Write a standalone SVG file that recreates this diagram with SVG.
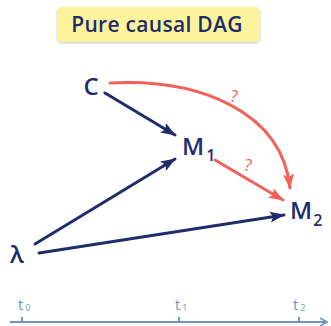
<svg xmlns="http://www.w3.org/2000/svg" width="331" height="326" viewBox="0 0 331 326">
  <style>
    .node { font-family: "Open Sans", "DejaVu Sans", sans-serif; fill: #1f2d6b; font-size: 24px; font-weight: 600; }
    .sub { font-size: 16px; }
    .edge { fill: none; stroke-width: 3; stroke-linecap: round; }
    .navy { stroke: #1f2d6b; }
    .red { stroke: #f0625a; }
    .q { font-family: "Open Sans", "DejaVu Sans", sans-serif; fill: #f0625a; font-size: 17px; font-style: italic; }
    .axis { stroke: #6f94c4; stroke-width: 2; fill: none; }
    .tl { font-family: "Open Sans", "DejaVu Sans", sans-serif; fill: #6f94c4; font-size: 15px; }
    .tsub { font-size: 9px; }
  </style>
  <defs>
    <marker id="ahNavy" markerUnits="userSpaceOnUse" markerWidth="16" markerHeight="12" viewBox="0 0 16 12" refX="14" refY="6" orient="auto">
      <path d="M0,0.5 L15,6 L0,11.5 L3,6 Z" fill="#1f2d6b"/>
    </marker>
    <marker id="ahRed" markerUnits="userSpaceOnUse" markerWidth="16" markerHeight="12" viewBox="0 0 16 12" refX="14" refY="6" orient="auto">
      <path d="M0,0.5 L15,6 L0,11.5 L3,6 Z" fill="#f0625a"/>
    </marker>
    <marker id="ahAxis" markerUnits="userSpaceOnUse" markerWidth="10" markerHeight="10" viewBox="0 0 10 10" refX="8" refY="5" orient="auto">
      <path d="M1,1 L8,5 L1,9" fill="none" stroke="#6f94c4" stroke-width="1.6"/>
    </marker>
    <filter id="shadow" x="-10%" y="-30%" width="120%" height="160%">
      <feDropShadow dx="0" dy="1" stdDeviation="1.2" flood-color="#000" flood-opacity="0.25"/>
    </filter>
  </defs>

  <g id="title">
    <rect x="57" y="7" width="203" height="35" rx="5" fill="#fdf39c" filter="url(#shadow)"/>
    <text x="157" y="32" text-anchor="middle" font-family="Open Sans, DejaVu Sans, sans-serif" font-size="21" font-weight="600" fill="#1f2d6b" letter-spacing="0.3">Pure causal DAG</text>
  </g>

  <g id="connectors">
    <line class="edge navy" x1="105" y1="93" x2="175" y2="135" marker-end="url(#ahNavy)"/>
    <line class="edge navy" x1="35" y1="244" x2="175" y2="159" marker-end="url(#ahNavy)"/>
    <line class="edge navy" x1="39" y1="253" x2="284" y2="215" marker-end="url(#ahNavy)"/>
    <line class="edge red" x1="215" y1="160" x2="283" y2="200" marker-end="url(#ahRed)"/>
    <path class="edge red" d="M110,83 C200,78 282,112 290,188" marker-end="url(#ahRed)"/>
    <text class="q" x="234" y="102" text-anchor="middle">?</text>
    <text class="q" x="248" y="171" text-anchor="middle">?</text>
  </g>

  <g id="node-C">
    <text class="node" x="91" y="95" text-anchor="middle">C</text>
  </g>
  <g id="node-M1">
    <text class="node" x="182" y="155">M<tspan class="sub" dx="2" dy="6">1</tspan></text>
  </g>
  <g id="node-M2">
    <text class="node" x="290" y="219">M<tspan class="sub" dx="1" dy="7">2</tspan></text>
  </g>
  <g id="node-lambda">
    <text class="node" x="17" y="263" text-anchor="middle">λ</text>
  </g>

  <g id="timeline">
    <line class="axis" x1="10" y1="322" x2="327" y2="322" marker-end="url(#ahAxis)"/>
    <line class="axis" x1="22" y1="317" x2="22" y2="322"/>
    <line class="axis" x1="179" y1="317" x2="179" y2="322"/>
    <line class="axis" x1="299" y1="317" x2="299" y2="322"/>
    <text class="tl" x="18" y="310">t<tspan class="tsub" dx="2" dy="1">0</tspan></text>
    <text class="tl" x="175" y="310">t<tspan class="tsub" dx="2" dy="1">1</tspan></text>
    <text class="tl" x="293" y="310">t<tspan class="tsub" dx="2" dy="1">2</tspan></text>
  </g>
</svg>
